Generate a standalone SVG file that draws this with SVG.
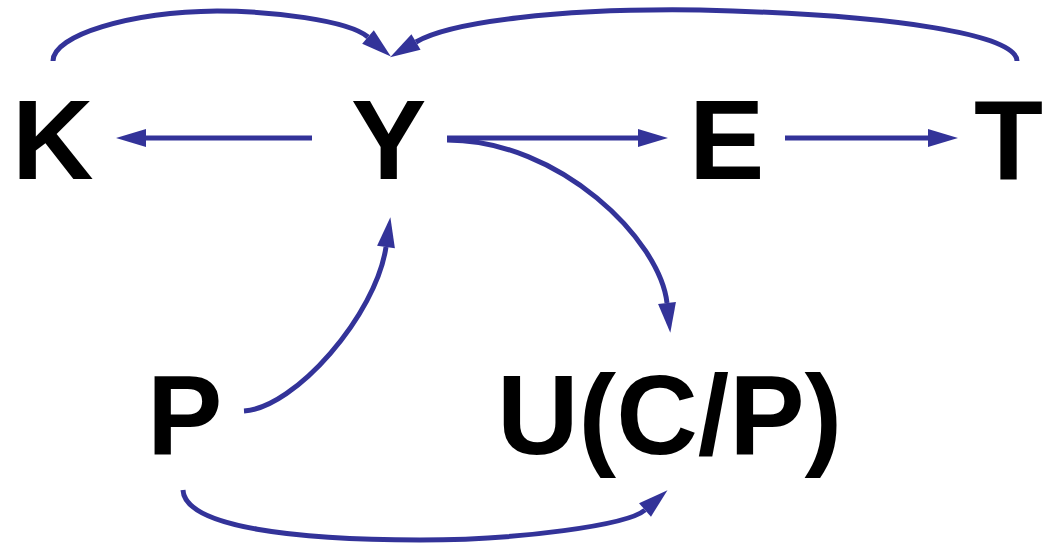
<svg xmlns="http://www.w3.org/2000/svg" width="1043" height="545" viewBox="0 0 1043 545">
  <style>
    .label { font-family: "Liberation Sans", Arial, sans-serif; font-weight: bold; font-size: 113px; fill: #000000; }
    .link { fill: none; stroke: #333399; stroke-width: 5; marker-end: url(#head); }
  </style>
  <defs>
    <!-- filled triangular arrowhead; the line ends at its base -->
    <marker id="head" markerUnits="userSpaceOnUse" markerWidth="32" markerHeight="20" refX="0" refY="9" orient="auto" overflow="visible">
      <path d="M0,0 L30,9 L0,18 Z" fill="#333399"/>
    </marker>
  </defs>

  <g id="connectors">
    <!-- Y to K -->
    <path class="link" d="M312,138 L146,138"/>
    <!-- Y to E -->
    <path class="link" d="M447,138 L638,138"/>
    <!-- E to T -->
    <path class="link" d="M785,138 L928,138"/>
    <!-- K over the top to Y -->
    <path class="link" d="M53,61 C53,35 130,12 217,11 C270,11 348,20 368,37"/>
    <!-- T over the top to Y -->
    <path class="link" d="M1017,61 C1017,35 900,15 700,10 C560,8 450,22 416,42"/>
    <!-- Y down to U(C/P) -->
    <path class="link" d="M447,140 C560,140 660,240 667,303"/>
    <!-- P up to Y -->
    <path class="link" d="M244,411 C295,408 376,315 386,247"/>
    <!-- P under to U(C/P) -->
    <path class="link" d="M183,490 C185,528 300,540 420,540 C520,540 628,525 645,510"/>
  </g>

  <g id="node-K"><text class="label" x="12" y="179">K</text></g>
  <g id="node-Y"><text class="label" x="351" y="179">Y</text></g>
  <g id="node-E"><text class="label" x="689" y="179">E</text></g>
  <g id="node-T"><text class="label" x="974" y="179">T</text></g>
  <g id="node-P"><text class="label" x="147" y="454">P</text></g>
  <g id="node-U"><text class="label" x="497" y="454">U(C/P)</text></g>
</svg>
